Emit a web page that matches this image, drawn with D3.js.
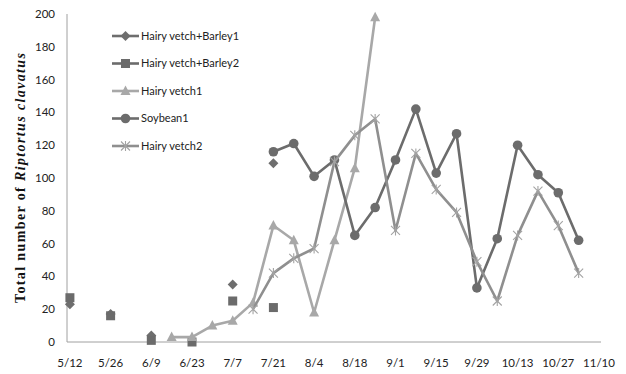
<!DOCTYPE html>
<html>
<head>
<meta charset="utf-8">
<script src="https://cdn.jsdelivr.net/npm/d3@7"></script>
<style>
    body { margin: 0; background: #fff; }
    .tick-label { font-family: Lato, "Open Sans", sans-serif; font-size: 11.5px; fill: #222; }
    .legend-label { font-family: Lato, "Open Sans", sans-serif; font-size: 11px; fill: #222; }
    .y-title { font-family: "Liberation Serif", "DejaVu Serif", serif; font-size: 14px; font-weight: bold; fill: #111; }
    .line { fill: none; stroke-width: 2.6; stroke-linejoin: round; }
</style>
</head>
<body>
<script>
// weekly sampling dates (month/day), year only used for the time scale
var dates = ["5/12", "5/19", "5/26", "6/2", "6/9", "6/16", "6/23", "6/30", "7/7", "7/14",
    "7/21", "7/28", "8/4", "8/11", "8/18", "8/25", "9/1", "9/8", "9/15", "9/22",
    "9/29", "10/6", "10/13", "10/20", "10/27", "11/3"];

var xTickLabels = ["5/12", "5/26", "6/9", "6/23", "7/7", "7/21", "8/4", "8/18", "9/1",
    "9/15", "9/29", "10/13", "10/27", "11/10"];
var yTicks = [0, 20, 40, 60, 80, 100, 120, 140, 160, 180, 200];

var seriesNames = ["Hairy vetch+Barley1", "Hairy vetch+Barley2", "Hairy vetch1", "Soybean1", "Hairy vetch2"];

var hairyBarley1 = [23, null, 17, null, 4, null, null, null, 35, null, 109, null, null,
    null, null, null, null, null, null, null, null, null, null, null, null, null];
var hairyBarley2 = [27, null, 16, null, 1, null, 0, null, 25, null, 21, null, null,
    null, null, null, null, null, null, null, null, null, null, null, null, null];
var hairyVetch1 = [null, null, null, null, null, 3, 3, 10, 13, 24, 71, 62, 18,
    62, 106, 198, null, null, null, null, null, null, null, null, null, null];
var soybean1 = [null, null, null, null, null, null, null, null, null, null, 116, 121, 101,
    111, 65, 82, 111, 142, 103, 127, 33, 63, 120, 102, 91, 62];
var hairyVetch2 = [null, null, null, null, null, null, null, null, null, 20, 42, 51, 57,
    110, 126, 136, 68, 115, 93, 79, 49, 25, 65, 92, 71, 42];

var width = 626, height = 374;
var parseDate = d3.timeParse("%Y/%m/%d");
function toDate(s) { return parseDate("2011/" + s); }

var svg = d3.select("body").append("svg")
    .attr("width", width)
    .attr("height", height);

// scales
var xScale = d3.scaleTime()
    .domain([toDate("5/11"), toDate("11/10")])
    .range([67, 599]);

var yScale = d3.scaleLinear()
    .domain([0, 200])
    .range([342, 14]);

// axis lines (no tick marks, like the original)
svg.append("line")
    .attr("x1", 67).attr("x2", 601)
    .attr("y1", yScale(0)).attr("y2", yScale(0))
    .attr("stroke", "#a0a0a0").attr("stroke-width", 1);
svg.append("line")
    .attr("x1", 67).attr("x2", 67)
    .attr("y1", yScale(200)).attr("y2", yScale(0))
    .attr("stroke", "#a0a0a0").attr("stroke-width", 1);

// y tick labels
svg.selectAll(".ytick")
    .data(yTicks)
    .enter().append("text")
    .attr("class", "tick-label")
    .attr("x", 55)
    .attr("y", function (d) { return yScale(d); })
    .attr("dy", "0.35em")
    .attr("text-anchor", "end")
    .text(function (d) { return d; });

// x tick labels
svg.selectAll(".xtick")
    .data(xTickLabels)
    .enter().append("text")
    .attr("class", "tick-label")
    .attr("x", function (d) { return xScale(toDate(d)); })
    .attr("y", 367)
    .attr("text-anchor", "middle")
    .text(function (d) { return d; });

// y axis title
var title = svg.append("text")
    .attr("class", "y-title")
    .attr("transform", "translate(25," + 178 + ") rotate(-90)")
    .attr("text-anchor", "middle")
    .attr("textLength", 250)
    .attr("lengthAdjust", "spacing");
title.append("tspan").text("Total number of ");
title.append("tspan").attr("font-style", "italic").text("Riptortus clavatus");

// marker drawing helpers
function drawMarker(g, type, color, x, y) {
    if (type === "diamond") {
        g.append("path")
            .attr("d", "M0,-5L5,0L0,5L-5,0Z")
            .attr("transform", "translate(" + x + "," + y + ")")
            .attr("fill", color);
    } else if (type === "square") {
        g.append("rect")
            .attr("x", x - 4.5).attr("y", y - 4.5)
            .attr("width", 9).attr("height", 9)
            .attr("fill", color);
    } else if (type === "triangle") {
        g.append("path")
            .attr("d", "M0,-5.5L5,4L-5,4Z")
            .attr("transform", "translate(" + x + "," + y + ")")
            .attr("fill", color);
    } else if (type === "circle") {
        g.append("circle")
            .attr("cx", x).attr("cy", y).attr("r", 4.8)
            .attr("fill", color);
    } else if (type === "x") {
        g.append("path")
            .attr("d", "M-4.5,-4.5L4.5,4.5M-4.5,4.5L4.5,-4.5M0,-5L0,5")
            .attr("transform", "translate(" + x + "," + y + ")")
            .attr("stroke", color).attr("stroke-width", 1.1).attr("fill", "none");
    }
}

var series = [
    { name: seriesNames[0], values: hairyBarley1, color: "#6e6e6e", marker: "diamond", markerColor: "#6e6e6e" },
    { name: seriesNames[1], values: hairyBarley2, color: "#6b6b6b", marker: "square", markerColor: "#6b6b6b" },
    { name: seriesNames[2], values: hairyVetch1, color: "#a8a8a8", marker: "triangle", markerColor: "#a8a8a8" },
    { name: seriesNames[3], values: soybean1, color: "#6c6c6c", marker: "circle", markerColor: "#6c6c6c" },
    { name: seriesNames[4], values: hairyVetch2, color: "#8f8f8f", marker: "x", markerColor: "#a3a3a3" }
];

var line = d3.line()
    .defined(function (d) { return d != null; })
    .x(function (d, i) { return xScale(toDate(dates[i])); })
    .y(function (d) { return yScale(d); });

series.forEach(function (s) {
    var g = svg.append("g");
    g.append("path")
        .datum(s.values)
        .attr("class", "line")
        .attr("stroke", s.color)
        .attr("d", line);
    s.values.forEach(function (v, i) {
        if (v == null) return;
        drawMarker(g, s.marker, s.markerColor, xScale(toDate(dates[i])), yScale(v));
    });
});

// legend
var legend = svg.append("g");
series.forEach(function (s, i) {
    var y = 36 + i * 27.5;
    legend.append("line")
        .attr("x1", 112).attr("x2", 139)
        .attr("y1", y).attr("y2", y)
        .attr("stroke", s.color).attr("stroke-width", 2.6);
    drawMarker(legend, s.marker, s.markerColor, 125.5, y);
    legend.append("text")
        .attr("class", "legend-label")
        .attr("x", 141)
        .attr("y", y)
        .attr("dy", "0.35em")
        .text(s.name);
});
</script>
</body>
</html>
